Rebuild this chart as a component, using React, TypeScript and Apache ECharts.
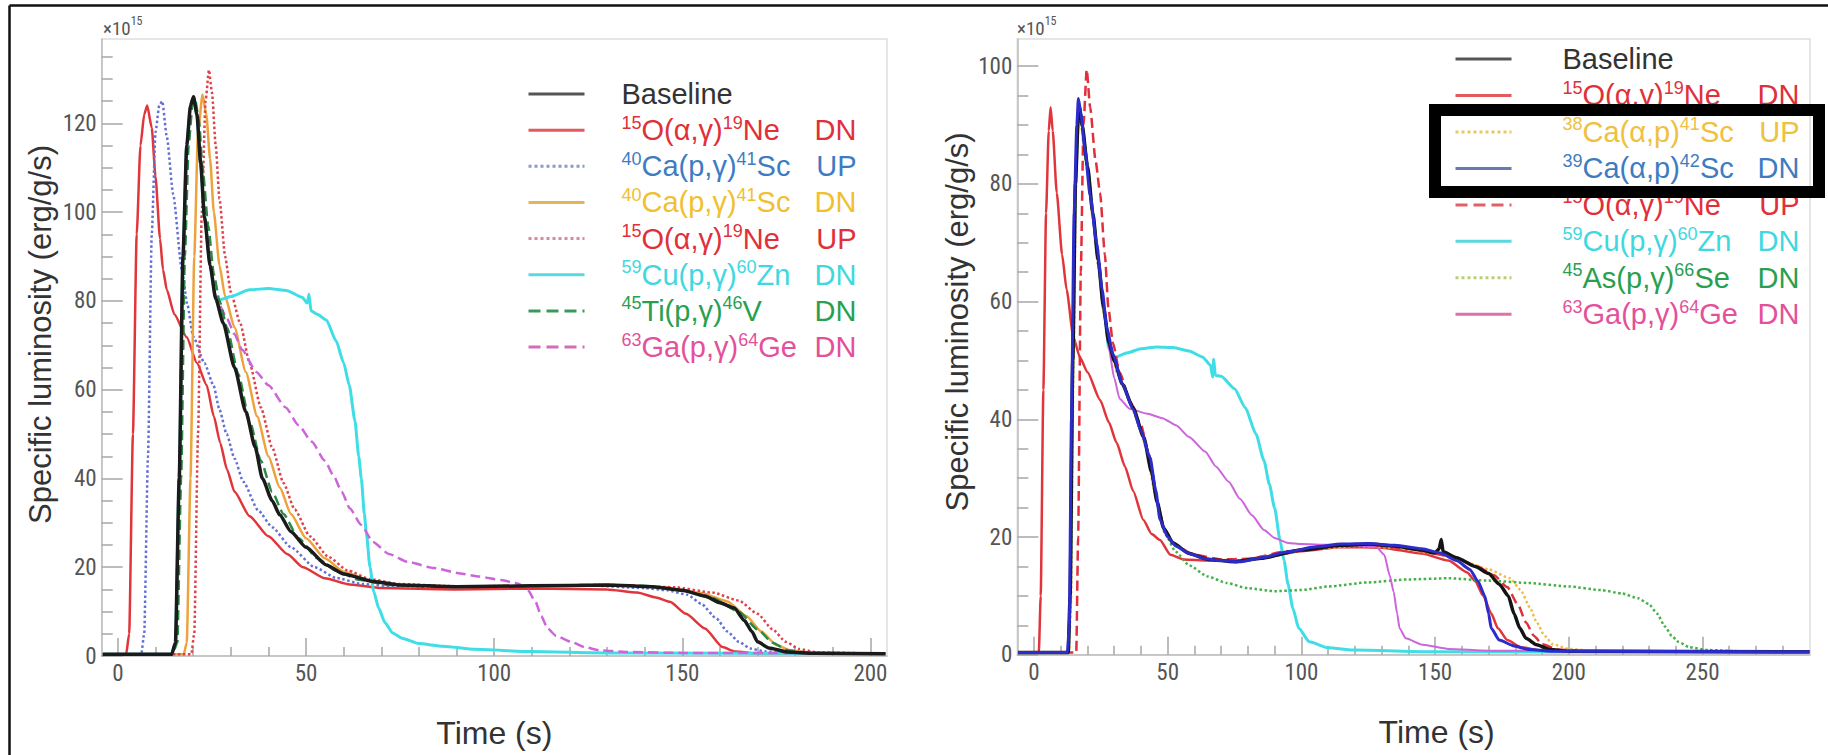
import { useEffect, useRef } from "react";
import * as echarts from "echarts";

type P = [number, number];

// ---------------- LEFT PANEL DATA (time [s], luminosity [x10^15 erg/g/s]) ----------------
const L_baseline: P[] = [[-4,0.4],[14.3,0.4],[15.3,3],[16.3,40],[17.3,90],[18.3,115],[19.3,124],[20.1,126],[21,122],[22,111],[23,99],[24.5,88],[26,80.5],[28,75],[31,65],[34,55],[36.5,47],[38.4,40],[41,35],[43,31.8],[46,28],[50,24.5],[55.4,20.5],[60,18.5],[67.8,16.8],[75,16],[90,15.6],[110,15.8],[130,16],[142,15.6],[150,14.8],[156,13.5],[160,12],[163.8,10.8],[166.5,8],[168.5,5.5],[170,3.2],[173,1.8],[178,0.9],[185,0.6],[204,0.5]];
const L_o15dn: P[] = [[-4,0.4],[2.2,0.4],[3,5],[4,50],[5,95],[6,115],[7,122],[7.8,124],[9,119],[10,108],[11.2,94],[12,87],[13,82.5],[15,77],[18.3,71.8],[21,66],[23.6,61],[25.5,54],[27.2,48],[29,42],[31,37],[35,31.5],[40,27],[45,23],[49.2,20],[55,17.5],[61.6,16.1],[70,15.3],[90,15],[110,15.2],[130,15],[138,14.3],[143,13.2],[146.7,12.2],[151,9.5],[156,6.2],[160.7,2],[164,1],[170,0.6],[204,0.5]];
const L_ca40up: P[] = [[-4,0.4],[6.2,0.4],[7,5],[8,45],[9,95],[10,118],[11,124],[11.8,125],[13,117],[14.7,104],[17,87],[18.5,79],[20,72],[23,66],[25.4,61],[27,55.5],[28.9,50],[31,44.5],[33.3,39.3],[37.3,32.8],[41,29],[46,24.5],[52.3,20],[58,17.6],[65,16.2],[75,15.6],[100,15.6],[125,15.9],[140,15.3],[146,14.8],[151.4,13.8],[155,11.8],[159,8.5],[162,5.5],[165,3.2],[168,1.7],[172,1],[180,0.6],[204,0.5]];
const L_ca40dn: P[] = [[-4,0.4],[17.5,0.4],[18.3,3],[19.3,40],[20.3,90],[21.3,118],[22.5,126.5],[23.5,122],[24.5,112],[25.5,100],[27,88],[28.5,81],[31,74],[34,64],[37,54],[40,45],[43,38],[46,32],[50,26.5],[55,22],[60,19],[67,17],[75,16],[90,15.6],[110,15.8],[130,16],[145,15.5],[155,14.2],[162,12.3],[167,9],[171,5.5],[175,2.5],[179,1.2],[185,0.7],[204,0.5]];
const L_o15up: P[] = [[-4,0.4],[19.5,0.4],[20.3,5],[21.3,50],[22.3,100],[23.3,125],[24.2,132],[25,127],[26,115],[27,103],[28.5,90],[30,82],[32.5,75],[35,66],[38,56],[41,47],[44,39],[47,33],[51,27],[56,22.3],[61,19.3],[67,17.3],[75,16.2],[90,15.7],[110,15.8],[130,16],[148,15.5],[158,14.3],[165,12.5],[170,9.5],[174,6],[177.5,3.2],[181,1.6],[186,0.8],[204,0.5]];
const L_cu59dn: P[] = [[-4,0.4],[14.3,0.4],[15.3,3],[16.3,40],[17.3,90],[18.3,115],[19.3,124],[20.1,126],[21,122],[22,111],[23,99],[24.5,88],[26,80.5],[27,80.2],[30,81],[35,82.5],[40,82.8],[45,82.3],[49,80.8],[50.3,79.5],[50.8,81.5],[51.3,77.8],[53,77],[55.4,75.7],[58,71],[60,66],[61.5,61],[63,53],[64,45],[64.7,40],[65.5,32],[66,28],[67,20],[68,14.5],[69.3,10.8],[71,7.5],[73,5.2],[75.5,4],[80,2.8],[86.4,2.2],[95,1.5],[110,1],[130,0.7],[204,0.5]];
const L_ti45dn: P[] = [[-4,0.4],[14.5,0.4],[15.8,3],[16.8,40],[17.8,90],[18.8,115],[19.8,124],[20.5,125.5],[21.5,121],[22.5,110],[24,97],[25.5,86],[27,80],[29,74],[32,63.5],[35,53],[38,44],[41,37],[44,32],[48,26.5],[53,22],[58,19.2],[64,17.2],[72,16],[85,15.6],[105,15.7],[125,16],[140,15.8],[150,14.8],[158,13],[165,10],[170,6],[174,3],[178,1.3],[184,0.7],[204,0.5]];
const L_ga63dn: P[] = [[-4,0.4],[14.3,0.4],[15.3,3],[16.3,40],[17.3,90],[18.3,115],[19.3,124],[20.1,126],[21,122],[22,111],[23,99],[24.5,88],[26,81],[27,79],[29,76],[31,72.5],[33,69],[36.8,64],[40,61],[44.6,56],[48,52],[51.5,48.3],[55,44],[57.2,40.8],[59.5,37],[61.6,33.3],[64.7,29.5],[67.8,25.7],[72,23],[77,21.2],[84,19.8],[91,18.6],[96,17.9],[101.8,17.1],[106.5,16.3],[109,14.8],[111,12.2],[112.5,9],[114.2,6.2],[116.5,4.5],[120.4,3.2],[124,2],[128,1.3],[135,0.9],[150,0.7],[204,0.6]];

// ---------------- RIGHT PANEL DATA ----------------
const R_baseline: P[] = [[-6,0.4],[12.8,0.4],[13.5,10],[14.5,50],[15.5,80],[16.5,91],[17,93],[18,90],[20,83],[22,75],[24,67],[26,59],[28,53],[30,50],[33,46],[37,42],[41,37],[44,31],[46,26],[48.5,21.5],[52,19],[58,17.2],[65,16.2],[75,15.8],[85,16.4],[100,17.8],[115,18.6],[125,18.8],[135,18.5],[145,17.8],[150,17.3],[151.5,18],[152.3,19.6],[153,17.5],[158,16.5],[165,15],[170,13.8],[174,12],[177.4,10],[179.5,7],[181.7,4.5],[184,2.8],[188,1.7],[193,0.9],[200,0.6],[290,0.5]];
const R_o15dn: P[] = [[-6,0.4],[1.8,0.4],[2.5,10],[3.5,45],[4.5,75],[5.5,89],[6.2,93],[7,89],[8.5,78.5],[10.5,68],[12.2,62],[14.7,54],[17.2,50.5],[20,48],[24.7,43.3],[28,39.5],[30.9,36],[34,32],[37.1,27.8],[40.9,22.9],[44,20.5],[47.1,19.5],[51,17],[56,16.2],[65,16],[75,16],[85,16.5],[100,17.6],[115,18.3],[130,18.2],[145,17.2],[155,16],[162,14],[165,12.5],[168,10],[171,7],[173.5,4.5],[177,2.5],[182,1.3],[190,0.7],[290,0.5]];
const R_ca38up: P[] = [[-6,0.4],[13,0.4],[13.8,8],[14.8,50],[15.8,82],[16.8,92],[18,89],[20,82],[22,74],[24,66],[26,58],[28.5,52],[31,48],[35,44],[39,39.5],[42,35],[45,28],[48,22],[52,19],[58,17.3],[66,16.2],[76,16],[90,17],[105,18],[120,18.5],[135,18.2],[150,17.2],[160,16],[170,14.5],[178,13],[182,11],[185.5,8],[188,5.5],[191,3.2],[194,1.8],[200,1],[210,0.6],[290,0.5]];
const R_ca39dn: P[] = [[-6,0.4],[12.5,0.4],[13.2,5],[14,40],[15,75],[16,90],[16.6,94.5],[17.5,92],[19,86],[21,78],[23.4,70],[25.5,62],[27.2,55.5],[29.6,51],[33,46],[37.1,41.7],[40,38],[43.4,33.5],[45.5,28],[47.1,23],[50,20],[53,18.5],[58,17.2],[64,16.3],[70,16],[77,15.8],[85,16.5],[95,17.5],[105,18.3],[115,18.8],[125,18.9],[135,18.6],[145,18],[152,17.3],[158,16],[163,14.5],[166,12.5],[168.6,10],[170,7],[171,4.5],[174,2.5],[179.5,1.5],[185,0.9],[195,0.6],[290,0.5]];
const R_o15up: P[] = [[-6,0.4],[15.8,0.4],[16.5,20],[17.5,65],[18.5,90],[19.7,99.4],[21,93],[23,84],[24.7,78.5],[26.5,68],[27.8,59],[29.5,53],[32,48],[36,43],[40,39],[43,34],[46,26],[49,21],[53,18.5],[60,17],[70,16.2],[80,16.3],[95,17.6],[110,18.5],[125,18.7],[140,18],[155,16.8],[165,15.2],[172,13.5],[177,11.5],[181,8.5],[184,5.5],[187,3.2],[190,1.8],[196,0.9],[205,0.6],[290,0.5]];
const R_cu59dn: P[] = [[-6,0.4],[12.8,0.4],[13.5,10],[14.5,50],[15.5,80],[16.5,91],[17,93],[18,90],[20,83],[22,75],[24,67],[26,59],[28,52],[30,50.5],[35,51.3],[40,52],[46,52.3],[52,52.2],[58,51.6],[63,50.6],[66,49.2],[66.8,47.2],[67.2,50.2],[67.8,47.5],[70,47.3],[75,45.2],[79,42],[83,37.5],[86,33],[88,29],[90,24.9],[92,19.5],[93.5,16],[95,12],[96.8,7.9],[99,4.5],[103,2.2],[110,1.2],[120,0.8],[150,0.5],[290,0.4]];
const R_as45dn: P[] = [[-6,0.4],[12.8,0.4],[13.5,10],[14.5,50],[15.5,80],[16.5,91],[17,93],[18,90],[20,83],[22,75],[24,67],[26,59],[28,53],[30,50],[33,46],[37,42],[41,37],[44,31],[46.5,25],[49,20.5],[53,17.5],[58,15.2],[65,13.3],[72,12.2],[80,11.3],[90,10.8],[100,11],[110,11.6],[125,12.3],[140,12.8],[155,13],[170,12.6],[185,12.2],[200,11.6],[212,11],[220,10.4],[226,9.6],[230,8.6],[233,7],[236,4.8],[238.5,3.2],[241,2.2],[245,1.3],[252,0.8],[265,0.6],[290,0.5]];
const R_ga63dn: P[] = [[-6,0.4],[12.8,0.4],[13.5,10],[14.5,50],[15.5,80],[16.5,91],[17,93],[18,90],[20,83],[22,75],[24,67],[26,59],[28,52],[30,47],[32,43.5],[35.7,41.8],[42,41],[48,40.2],[53.1,39],[58,37],[64.1,34.5],[68,32],[72.8,29.4],[77,26.5],[81.5,23.7],[86,21.2],[90.2,19.8],[95,19],[100,18.8],[110,18.7],[120,18.6],[128,18.3],[131,17],[133,13.5],[134.5,10.7],[135.8,7],[136.7,4.5],[139,2.8],[145.4,1.7],[155,1],[170,0.7],[290,0.5]];

// ---------------- TICKS ----------------
const leftXMajor = [0, 50, 100, 150, 200];
const leftXMinor = [10, 20, 30, 40, 60, 70, 80, 90, 110, 120, 130, 140, 160, 170, 180, 190];
const leftYMajor = [0, 20, 40, 60, 80, 100, 120];
const leftYMinor = [5, 10, 15, 25, 30, 35, 45, 50, 55, 65, 70, 75, 85, 90, 95, 105, 110, 115, 125, 130, 135];
const rightXMajor = [0, 50, 100, 150, 200, 250];
const rightXMinor = [10, 20, 30, 40, 60, 70, 80, 90, 110, 120, 130, 140, 160, 170, 180, 190, 210, 220, 230, 240, 260, 270, 280];
const rightYMajor = [0, 20, 40, 60, 80, 100];
const rightYMinor = [5, 10, 15, 25, 30, 35, 45, 50, 55, 65, 70, 75, 85, 90, 95];

// legend labels: [mass A, species A + reaction, mass B, species B, tag]
const leftLabels: string[][] = [
  ["", "Baseline", "", "", ""],
  ["15", "O(α,γ)", "19", "Ne", "DN"],
  ["40", "Ca(p,γ)", "41", "Sc", "UP"],
  ["40", "Ca(p,γ)", "41", "Sc", "DN"],
  ["15", "O(α,γ)", "19", "Ne", "UP"],
  ["59", "Cu(p,γ)", "60", "Zn", "DN"],
  ["45", "Ti(p,γ)", "46", "V", "DN"],
  ["63", "Ga(p,γ)", "64", "Ge", "DN"],
];
const rightLabels: string[][] = [
  ["", "Baseline", "", "", ""],
  ["15", "O(α,γ)", "19", "Ne", "DN"],
  ["38", "Ca(α,p)", "41", "Sc", "UP"],
  ["39", "Ca(α,p)", "42", "Sc", "DN"],
  ["15", "O(α,γ)", "19", "Ne", "UP"],
  ["59", "Cu(p,γ)", "60", "Zn", "DN"],
  ["45", "As(p,γ)", "66", "Se", "DN"],
  ["63", "Ga(p,γ)", "64", "Ge", "DN"],
];

const SANS = "'Liberation Sans', Arial, Helvetica, sans-serif";
const NARROW = "'Liberation Sans Narrow', 'Roboto Condensed', 'Liberation Sans', Arial, sans-serif";

type Def = { name: string; data: P[]; color: string; width: number; type: string; lcolor: string; ltype: string; tcolor: string; z: number };

const leftDefs: Def[] = [
  { name: "L0", data: L_baseline, color: "#1b1b1b", width: 3.5, type: "solid", lcolor: "#555555", ltype: "solid", tcolor: "#333333", z: 9 },
  { name: "L1", data: L_o15dn, color: "#e0353a", width: 2.5, type: "solid", lcolor: "#e05a5e", ltype: "solid", tcolor: "#e0303a", z: 3 },
  { name: "L2", data: L_ca40up, color: "#6470d6", width: 2.5, type: "dotted", lcolor: "#8a9ac8", ltype: "dotted", tcolor: "#3d7cc4", z: 3 },
  { name: "L3", data: L_ca40dn, color: "#eca33e", width: 2.5, type: "solid", lcolor: "#e2b656", ltype: "solid", tcolor: "#f0c030", z: 3 },
  { name: "L4", data: L_o15up, color: "#e0404a", width: 2.5, type: "dotted", lcolor: "#d98a9a", ltype: "dotted", tcolor: "#e0303a", z: 3 },
  { name: "L5", data: L_cu59dn, color: "#3fdde6", width: 3, type: "solid", lcolor: "#58d8e0", ltype: "solid", tcolor: "#3fd8e0", z: 4 },
  { name: "L6", data: L_ti45dn, color: "#2a8a45", width: 2.5, type: "dashed", lcolor: "#3a9a5a", ltype: "dashed", tcolor: "#28a050", z: 5 },
  { name: "L7", data: L_ga63dn, color: "#cc64da", width: 2.5, type: "dashed", lcolor: "#d46cb8", ltype: "dashed", tcolor: "#e4509a", z: 4 },
];
const rightDefs: Def[] = [
  { name: "R0", data: R_baseline, color: "#141414", width: 3.5, type: "solid", lcolor: "#555555", ltype: "solid", tcolor: "#333333", z: 8 },
  { name: "R1", data: R_o15dn, color: "#e0353a", width: 2.5, type: "solid", lcolor: "#e05a5e", ltype: "solid", tcolor: "#e0303a", z: 3 },
  { name: "R2", data: R_ca38up, color: "#eebf48", width: 2.5, type: "dotted", lcolor: "#e8c860", ltype: "dotted", tcolor: "#f0c040", z: 4 },
  { name: "R3", data: R_ca39dn, color: "#2c2ccc", width: 3, type: "solid", lcolor: "#6a78b4", ltype: "solid", tcolor: "#3e7cc0", z: 9 },
  { name: "R4", data: R_o15up, color: "#e0303a", width: 2.5, type: "dashed", lcolor: "#e06068", ltype: "dashed", tcolor: "#e0303a", z: 5 },
  { name: "R5", data: R_cu59dn, color: "#3fdde6", width: 3, type: "solid", lcolor: "#58d8e0", ltype: "solid", tcolor: "#3fd8e0", z: 4 },
  { name: "R6", data: R_as45dn, color: "#44b048", width: 2.5, type: "dotted", lcolor: "#b8d070", ltype: "dotted", tcolor: "#28a050", z: 4 },
  { name: "R7", data: R_ga63dn, color: "#cc64da", width: 2, type: "solid", lcolor: "#e070a8", ltype: "solid", tcolor: "#e4509a", z: 4 },
];

function buildSeries(defs: Def[], xi: number, yi: number) {
  return defs.map((d) => ({
    type: "line",
    name: d.name,
    data: d.data,
    xAxisIndex: xi,
    yAxisIndex: yi,
    symbol: "none",
    showSymbol: false,
    smooth: 0.2,
    smoothMonotone: "x",
    silent: true,
    z: d.z,
    lineStyle: { color: d.color, width: d.width, type: d.type },
    itemStyle: { color: d.color },
  }));
}

const LEG_FS = 29;
const LEG_SUP = 18;

function buildLegend(defs: Def[], labels: string[][], left: number, firstRowCenter: number, rowStep: number, pad: number, width: number) {
  const lh = rowStep;
  const rich: Record<string, any> = {};
  defs.forEach((d, i) => {
    rich["s" + i] = { fontSize: LEG_SUP, color: d.tcolor, fontFamily: SANS, padding: [0, 0, 15, 0], lineHeight: lh };
    rich["m" + i] = { fontSize: LEG_FS, color: d.tcolor, fontFamily: SANS, lineHeight: lh };
    rich["g" + i] = { fontSize: LEG_FS, color: d.tcolor, fontFamily: SANS, lineHeight: lh, align: "right" };
  });
  return {
    orient: "vertical",
    left,
    top: firstRowCenter - lh / 2,
    padding: 0,
    itemGap: 0,
    itemWidth: 56,
    itemHeight: 14,
    selectedMode: false,
    data: defs.map((d) => ({
      name: d.name,
      itemStyle: { opacity: 0 },
      lineStyle: { color: d.lcolor, width: 3, type: d.ltype },
    })),
    formatter: (name: string) => {
      const i = defs.findIndex((d) => d.name === name);
      const [a, b, c, e, tag] = labels[i];
      let s = "";
      if (a) s += `{s${i}|${a}}`;
      s += `{m${i}|${b}}`;
      if (c) s += `{s${i}|${c}}`;
      if (e) s += `{m${i}|${e}}`;
      if (tag) s += `{g${i}|${tag}}`;
      return s;
    },
    textStyle: { fontFamily: SANS, fontSize: LEG_FS, lineHeight: lh, padding: [0, 0, 0, pad], width, rich },
  };
}

const axisLineStyle = { color: "#bdbdbd", width: 1.5 };
const tickStyle = { color: "#a6a6a6", width: 1.5 };
const tickLabel = { fontSize: 23, color: "#555555", fontFamily: NARROW };

function xAxes(grid: number, min: number, max: number, major: number[], minor: number[], namePad: number) {
  return [
    {
      gridIndex: grid, type: "value", min, max, position: "bottom",
      axisLine: { onZero: false, lineStyle: axisLineStyle },
      axisTick: { inside: true, length: 18, customValues: major, lineStyle: tickStyle },
      axisLabel: { customValues: major, margin: 6, ...tickLabel },
      splitLine: { show: false },
      name: "Time (s)", nameLocation: "middle", nameGap: 61,
      nameTextStyle: { fontSize: 32, color: "#333333", fontFamily: SANS, padding: [0, 0, 0, namePad] },
    },
    {
      gridIndex: grid, type: "value", min, max, position: "bottom",
      axisLine: { show: false, onZero: false },
      axisTick: { inside: true, length: 9, customValues: minor, lineStyle: tickStyle },
      axisLabel: { show: false },
      splitLine: { show: false },
    },
  ];
}

function yAxes(grid: number, min: number, max: number, major: number[], minor: number[], nameGap: number, namePad: number) {
  return [
    {
      gridIndex: grid, type: "value", min, max, position: "left",
      axisLine: { onZero: false, lineStyle: axisLineStyle },
      axisTick: { inside: true, length: 21, customValues: major, lineStyle: tickStyle },
      axisLabel: { customValues: major, margin: 5, ...tickLabel },
      splitLine: { show: false },
      name: "Specific luminosity (erg/g/s)", nameLocation: "middle", nameGap,
      nameTextStyle: { fontSize: 31, color: "#333333", fontFamily: SANS, padding: [0, 0, 0, namePad] },
    },
    {
      gridIndex: grid, type: "value", min, max, position: "left",
      axisLine: { show: false, onZero: false },
      axisTick: { inside: true, length: 11, customValues: minor, lineStyle: tickStyle },
      axisLabel: { show: false },
      splitLine: { show: false },
    },
  ];
}

function sciLabel(x: number, y: number) {
  return {
    type: "text", x, y, z: 50,
    style: {
      text: "{a|×10}{b|15}",
      verticalAlign: "middle",
      rich: {
        a: { fontSize: 19, fill: "#555555", fontFamily: NARROW },
        b: { fontSize: 12, fill: "#555555", fontFamily: NARROW, padding: [0, 0, 14, 0] },
      },
    },
  };
}

export default function App() {
  const ref = useRef<HTMLDivElement>(null);
  useEffect(() => {
    document.body.style.margin = "0";
    document.body.style.background = "#ffffff";
    if (!ref.current) return;
    const chart = echarts.init(ref.current, undefined, { renderer: "svg" });
    const option: any = {
      animation: false,
      backgroundColor: "#ffffff",
      grid: [
        { left: 101.7, top: 39, width: 785.3, height: 617, show: true, borderColor: "#dddddd", borderWidth: 1.5, backgroundColor: "transparent" },
        { left: 1017.3, top: 39, width: 792.7, height: 615.8, show: true, borderColor: "#dddddd", borderWidth: 1.5, backgroundColor: "transparent" },
      ],
      xAxis: [
        ...xAxes(0, -4.3, 204.4, leftXMajor, leftXMinor, 0),
        ...xAxes(1, -6.25, 290.2, rightXMajor, rightXMinor, 46),
      ],
      yAxis: [
        ...yAxes(0, 0, 139, leftYMajor, leftYMinor, 46, 26),
        ...yAxes(1, 0, 104.6, rightYMajor, rightYMinor, 44, 50),
      ],
      legend: [
        buildLegend(leftDefs, leftLabels, 527, 94, 36.15, 32, 235),
        buildLegend(rightDefs, rightLabels, 1454, 59, 36.47, 46, 237),
      ],
      series: [...buildSeries(leftDefs, 0, 0), ...buildSeries(rightDefs, 2, 2)],
      graphic: [
        { type: "line", z: 100, shape: { x1: 9.5, y1: 5.5, x2: 1828, y2: 5.5 }, style: { stroke: "#111111", lineWidth: 2.5 } },
        { type: "line", z: 100, shape: { x1: 9.5, y1: 5.5, x2: 9.5, y2: 755 }, style: { stroke: "#111111", lineWidth: 2.5 } },
        sciLabel(103, 28),
        sciLabel(1017, 28),
        { type: "rect", z: 100, shape: { x: 1435, y: 110, width: 384, height: 82 }, style: { fill: "none", stroke: "#000000", lineWidth: 12 } },
      ],
    };
    chart.setOption(option);
    return () => chart.dispose();
  }, []);
  return <div ref={ref} style={{ width: 1828, height: 755 }} />;
}
